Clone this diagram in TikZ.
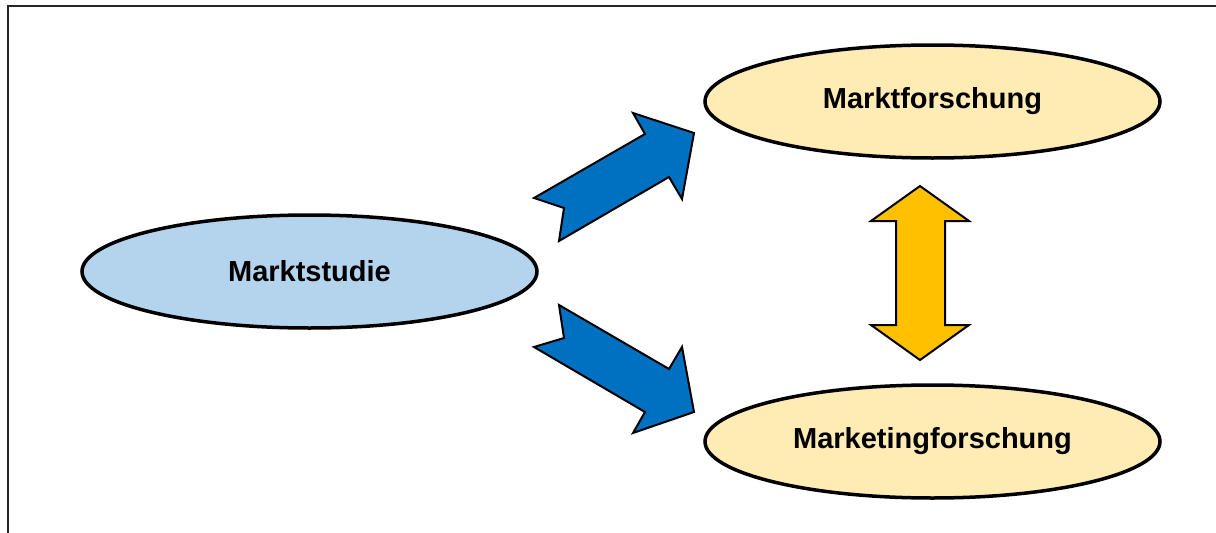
\documentclass[tikz,border=0pt]{standalone}
\usepackage{fontspec}
\setmainfont{Liberation Sans}
\usetikzlibrary{shapes.geometric}
\definecolor{ellblue}{HTML}{B4D3EC}
\definecolor{ellyellow}{HTML}{FFEBB4}
\definecolor{arrblue}{HTML}{0070C0}
\definecolor{arryellow}{HTML}{FFC000}
\tikzset{
  oval/.style={ellipse, draw=black, line width=3.5pt, inner sep=0pt,
    minimum width=455pt, minimum height=113pt,
    font=\fontsize{29}{34}\selectfont\bfseries},
  blockarrow/.style={draw=black, line width=2pt, line join=miter},
}
\begin{document}
\begin{tikzpicture}[x=1pt,y=-1pt]
\useasboundingbox (0,0) rectangle (1216,533);
% frame
\draw[line width=2.2pt, color=black!85] (8,540) -- (8,6) -- (1220,6);
% ellipses
\node[oval, fill=ellblue] (studie) at (309.5,271.5) {Marktstudie};
\node[oval, fill=ellyellow] (mforsch) at (932.5,101.5) {Marktforschung};
\node[oval, fill=ellyellow] (mkforsch) at (932.5,441.5) {Marketingforschung};
% blue arrows
\filldraw[blockarrow, fill=arrblue]
  (534,198) -- (645,134) -- (633,113) -- (694,133) -- (682,199) -- (669,177)
  -- (559,241) -- (564,208) -- cycle;
\filldraw[blockarrow, fill=arrblue]
  (534,347) -- (564,338) -- (559,305) -- (669,369) -- (682,347) -- (694,412)
  -- (633,433) -- (645,412) -- cycle;
% yellow double arrow
\filldraw[blockarrow, fill=arryellow]
  (920,186) -- (969,221) -- (945,221) -- (945,325) -- (969,325) -- (920,360)
  -- (871,325) -- (896,325) -- (896,221) -- (871,221) -- cycle;
\end{tikzpicture}
\end{document}
